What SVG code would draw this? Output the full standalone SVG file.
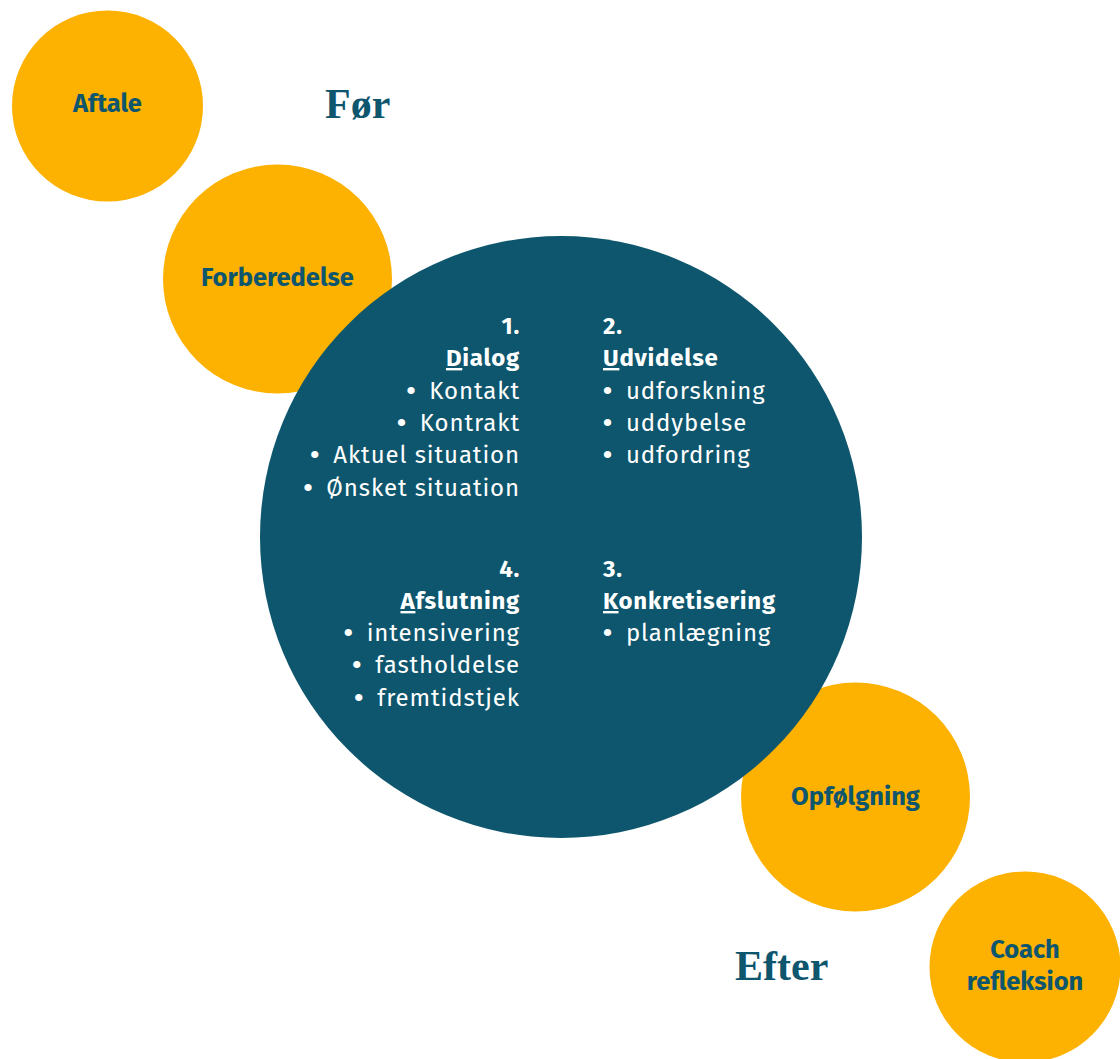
<svg xmlns="http://www.w3.org/2000/svg" width="1120" height="1059" viewBox="0 0 1120 1059">
<style>
.y{fill:#FDB100}
.b{fill:#0D566D}
.lbl{font-family:"Fira Sans","Noto Sans","Open Sans",sans-serif;font-weight:bold;font-size:25.5px;fill:#0D566D;text-anchor:middle}
.hd{font-family:"Liberation Serif","DejaVu Serif",serif;font-weight:bold;font-size:42px;fill:#0D566D}
.t{font-family:"Fira Sans","Noto Sans","Open Sans",sans-serif;font-size:24px;fill:#ffffff;letter-spacing:0.9px}
.tb{font-weight:bold;letter-spacing:0.75px}
.r{text-anchor:end}
.u{text-decoration:underline}
.bl{font-size:26px;font-weight:bold}
</style>
<rect width="1120" height="1059" fill="#ffffff"/>
<g id="connectors"></g>
<g id="aftale">
<circle class="y" cx="107.5" cy="106" r="95.5"/>
<text class="lbl" x="107.5" y="112">Aftale</text>
</g>
<g id="forberedelse">
<circle class="y" cx="277.5" cy="279" r="114.5"/>
<text class="lbl" x="277.5" y="286">Forberedelse</text>
</g>
<g id="opfolgning">
<circle class="y" cx="855.5" cy="797" r="114.5"/>
<text class="lbl" x="855.5" y="805">Opfølgning</text>
</g>
<g id="coach">
<circle class="y" cx="1025" cy="967" r="95.5"/>
<text class="lbl" x="1025" y="958">Coach</text>
<text class="lbl" x="1025" y="990">refleksion</text>
</g>
<g id="for-label">
<text class="hd" x="325" y="118">Før</text>
</g>
<g id="efter-label">
<text class="hd" x="735" y="980">Efter</text>
</g>
<g id="main">
<circle class="b" cx="561" cy="537" r="301"/>
<g id="step1">
<text class="t tb r" x="520" y="334">1.</text>
<text class="t tb r" x="520" y="366"><tspan class="u">D</tspan>ialog</text>
<text class="t r" x="520" y="399"><tspan class="bl">•</tspan><tspan dx="13">Kontakt</tspan></text>
<text class="t r" x="520" y="431"><tspan class="bl">•</tspan><tspan dx="13">Kontrakt</tspan></text>
<text class="t r" x="520" y="463"><tspan class="bl">•</tspan><tspan dx="13">Aktuel situation</tspan></text>
<text class="t r" x="520" y="496"><tspan class="bl">•</tspan><tspan dx="13">Ønsket situation</tspan></text>
</g>
<g id="step2">
<text class="t tb" x="603" y="334">2.</text>
<text class="t tb" x="603" y="366"><tspan class="u">U</tspan>dvidelse</text>
<text class="t" x="603" y="399"><tspan class="bl">•</tspan><tspan dx="13">udforskning</tspan></text>
<text class="t" x="603" y="431"><tspan class="bl">•</tspan><tspan dx="13">uddybelse</tspan></text>
<text class="t" x="603" y="463"><tspan class="bl">•</tspan><tspan dx="13">udfordring</tspan></text>
</g>
<g id="step4">
<text class="t tb r" x="520" y="577">4.</text>
<text class="t tb r" x="520" y="609"><tspan class="u">A</tspan>fslutning</text>
<text class="t r" x="520" y="641"><tspan class="bl">•</tspan><tspan dx="13">intensivering</tspan></text>
<text class="t r" x="520" y="673"><tspan class="bl">•</tspan><tspan dx="13">fastholdelse</tspan></text>
<text class="t r" x="520" y="706"><tspan class="bl">•</tspan><tspan dx="13">fremtidstjek</tspan></text>
</g>
<g id="step3">
<text class="t tb" x="603" y="577">3.</text>
<text class="t tb" x="603" y="609"><tspan class="u">K</tspan>onkretisering</text>
<text class="t" x="603" y="641"><tspan class="bl">•</tspan><tspan dx="13">planlægning</tspan></text>
</g>
</g>
</svg>
